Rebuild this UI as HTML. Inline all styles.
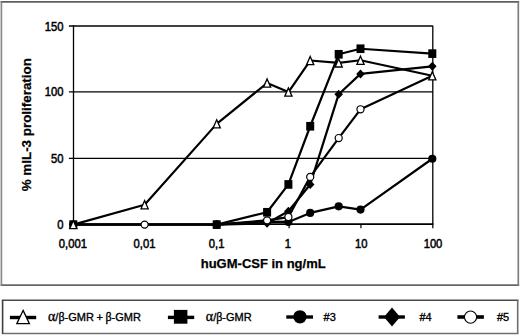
<!DOCTYPE html>
<html><head><meta charset="utf-8"><style>
html,body{margin:0;padding:0;background:#fff;}
body{width:520px;height:335px;overflow:hidden;}
svg{display:block;}
.t{font-family:"Liberation Sans",sans-serif;font-size:12.5px;fill:#000;stroke:#000;stroke-width:0.5px;}
.l{font-family:"Liberation Sans",sans-serif;font-size:11px;fill:#000;stroke:#000;stroke-width:0.35px;}
.g{font-family:"Liberation Serif",serif;font-size:12px;}
.ga{font-family:"Liberation Serif",serif;font-size:14px;}
.b{font-family:"Liberation Sans",sans-serif;font-size:13px;font-weight:bold;fill:#000;stroke:#000;stroke-width:0.25px;}
</style></head><body>
<svg width="520" height="335" viewBox="0 0 520 335">
<line x1="0.55" y1="1.80" x2="519.15" y2="1.80" stroke="#5e5e5e" stroke-width="1.70"/>
<line x1="0.55" y1="285.20" x2="519.15" y2="285.20" stroke="#686868" stroke-width="1.70"/>
<line x1="1.40" y1="1.80" x2="1.40" y2="285.20" stroke="#8a8a8a" stroke-width="1.70"/>
<line x1="518.30" y1="1.80" x2="518.30" y2="285.20" stroke="#7e7e7e" stroke-width="1.70"/>
<line x1="1.80" y1="300.20" x2="518.50" y2="300.20" stroke="#4a4a4a" stroke-width="1.60"/>
<line x1="1.80" y1="333.50" x2="518.50" y2="333.50" stroke="#707070" stroke-width="1.60"/>
<line x1="2.60" y1="300.20" x2="2.60" y2="333.50" stroke="#3e3e3e" stroke-width="1.60"/>
<line x1="517.70" y1="300.20" x2="517.70" y2="333.50" stroke="#6e6e6e" stroke-width="1.60"/>
<line x1="68.90" y1="158.40" x2="432.80" y2="158.40" stroke="#000" stroke-width="1.3"/>
<line x1="68.90" y1="91.90" x2="432.80" y2="91.90" stroke="#000" stroke-width="1.3"/>
<line x1="68.90" y1="26.00" x2="432.80" y2="26.00" stroke="#000" stroke-width="1.3"/>
<line x1="68.90" y1="224.10" x2="73.50" y2="224.10" stroke="#000" stroke-width="1.2"/>
<line x1="432.80" y1="25.80" x2="432.80" y2="224.00" stroke="#000" stroke-width="1.3"/>
<line x1="73.50" y1="25.20" x2="73.50" y2="224.00" stroke="#000" stroke-width="1.3"/>
<line x1="73.50" y1="224.10" x2="433.40" y2="224.10" stroke="#000" stroke-width="1.8"/>
<line x1="73.50" y1="224.00" x2="73.50" y2="228.30" stroke="#000" stroke-width="1.2"/>
<line x1="145.36" y1="224.00" x2="145.36" y2="228.30" stroke="#000" stroke-width="1.2"/>
<line x1="217.22" y1="224.00" x2="217.22" y2="228.30" stroke="#000" stroke-width="1.2"/>
<line x1="289.08" y1="224.00" x2="289.08" y2="228.30" stroke="#000" stroke-width="1.2"/>
<line x1="360.94" y1="224.00" x2="360.94" y2="228.30" stroke="#000" stroke-width="1.2"/>
<line x1="432.80" y1="224.00" x2="432.80" y2="228.30" stroke="#000" stroke-width="1.2"/>
<text transform="translate(63.6,228.60) scale(0.900,1)" text-anchor="end" class="t">0</text>
<text transform="translate(63.6,162.90) scale(0.900,1)" text-anchor="end" class="t">50</text>
<text transform="translate(63.6,96.40) scale(0.900,1)" text-anchor="end" class="t">100</text>
<text transform="translate(63.6,30.50) scale(0.900,1)" text-anchor="end" class="t">150</text>
<text transform="translate(72.90,247.6) scale(0.900,1)" text-anchor="middle" class="t">0,001</text>
<text transform="translate(144.46,247.6) scale(0.900,1)" text-anchor="middle" class="t">0,01</text>
<text transform="translate(216.62,247.6) scale(0.900,1)" text-anchor="middle" class="t">0,1</text>
<text transform="translate(287.88,247.6) scale(0.900,1)" text-anchor="middle" class="t">1</text>
<text transform="translate(361.14,247.6) scale(0.900,1)" text-anchor="middle" class="t">10</text>
<text transform="translate(433.00,247.6) scale(0.900,1)" text-anchor="middle" class="t">100</text>
<text x="263.2" y="268.2" text-anchor="middle" class="b">huGM-CSF in ng/mL</text>
<text transform="translate(31.3,124.7) rotate(-90)" text-anchor="middle" class="b" style="font-size:13.4px">% mIL-3 proliferation</text>
<polyline points="216.70,224.60 267.10,221.55 288.40,221.95 310.20,212.94 338.70,206.31 360.50,209.62 432.30,158.73" fill="none" stroke="#000" stroke-width="2.20" stroke-linejoin="round"/>
<polyline points="216.70,224.60 267.10,223.27 288.40,211.21 310.20,184.44 338.70,94.19 360.50,73.91 432.30,66.36" fill="none" stroke="#000" stroke-width="2.20" stroke-linejoin="round"/>
<polyline points="73.30,224.60 144.60,224.60 216.70,224.60 267.10,220.36 288.40,217.05 310.20,176.89 338.70,138.06 360.50,109.30 432.30,75.77" fill="none" stroke="#000" stroke-width="2.20" stroke-linejoin="round"/>
<polyline points="73.30,224.60 216.70,224.60 267.10,212.27 288.40,184.44 310.20,126.26 338.70,54.29 360.50,48.73 432.30,53.63" fill="none" stroke="#000" stroke-width="2.20" stroke-linejoin="round"/>
<polyline points="73.30,224.60 144.60,204.72 216.70,123.87 267.10,83.05 288.40,92.07 310.20,60.52 338.70,62.91 360.50,60.26 432.30,75.77" fill="none" stroke="#000" stroke-width="2.20" stroke-linejoin="round"/>
<circle cx="216.70" cy="224.60" r="4.10" fill="#000"/>
<circle cx="267.10" cy="221.55" r="4.10" fill="#000"/>
<circle cx="288.40" cy="221.95" r="4.10" fill="#000"/>
<circle cx="310.20" cy="212.94" r="4.10" fill="#000"/>
<circle cx="338.70" cy="206.31" r="4.10" fill="#000"/>
<circle cx="360.50" cy="209.62" r="4.10" fill="#000"/>
<circle cx="432.30" cy="158.73" r="4.10" fill="#000"/>
<polygon points="216.70,220.10 221.00,224.60 216.70,229.10 212.40,224.60" fill="#000"/>
<polygon points="267.10,218.77 271.40,223.27 267.10,227.77 262.80,223.27" fill="#000"/>
<polygon points="288.40,206.71 292.70,211.21 288.40,215.71 284.10,211.21" fill="#000"/>
<polygon points="310.20,179.94 314.50,184.44 310.20,188.94 305.90,184.44" fill="#000"/>
<polygon points="338.70,89.69 343.00,94.19 338.70,98.69 334.40,94.19" fill="#000"/>
<polygon points="360.50,69.41 364.80,73.91 360.50,78.41 356.20,73.91" fill="#000"/>
<polygon points="432.30,61.86 436.60,66.36 432.30,70.86 428.00,66.36" fill="#000"/>
<circle cx="73.30" cy="224.60" r="3.55" fill="#fff" stroke="#000" stroke-width="1.20"/>
<circle cx="144.60" cy="224.60" r="3.55" fill="#fff" stroke="#000" stroke-width="1.20"/>
<circle cx="216.70" cy="224.60" r="3.55" fill="#fff" stroke="#000" stroke-width="1.20"/>
<circle cx="267.10" cy="220.36" r="3.55" fill="#fff" stroke="#000" stroke-width="1.20"/>
<circle cx="288.40" cy="217.05" r="3.55" fill="#fff" stroke="#000" stroke-width="1.20"/>
<circle cx="310.20" cy="176.89" r="3.55" fill="#fff" stroke="#000" stroke-width="1.20"/>
<circle cx="338.70" cy="138.06" r="3.55" fill="#fff" stroke="#000" stroke-width="1.20"/>
<circle cx="360.50" cy="109.30" r="3.55" fill="#fff" stroke="#000" stroke-width="1.20"/>
<rect x="69.30" y="220.28" width="8.00" height="8.64" fill="#000"/>
<rect x="212.70" y="220.28" width="8.00" height="8.64" fill="#000"/>
<rect x="263.10" y="207.95" width="8.00" height="8.64" fill="#000"/>
<rect x="284.40" y="180.12" width="8.00" height="8.64" fill="#000"/>
<rect x="306.20" y="121.94" width="8.00" height="8.64" fill="#000"/>
<rect x="334.70" y="49.97" width="8.00" height="8.64" fill="#000"/>
<rect x="356.50" y="44.41" width="8.00" height="8.64" fill="#000"/>
<rect x="428.30" y="49.31" width="8.00" height="8.64" fill="#000"/>
<polygon points="73.30,220.50 76.90,228.70 69.70,228.70" fill="#fff" stroke="#000" stroke-width="1.30" stroke-linejoin="miter"/>
<polygon points="144.60,200.62 148.20,208.82 141.00,208.82" fill="#fff" stroke="#000" stroke-width="1.30" stroke-linejoin="miter"/>
<polygon points="216.70,119.77 220.30,127.97 213.10,127.97" fill="#fff" stroke="#000" stroke-width="1.30" stroke-linejoin="miter"/>
<polygon points="267.10,78.95 270.70,87.15 263.50,87.15" fill="#fff" stroke="#000" stroke-width="1.30" stroke-linejoin="miter"/>
<polygon points="288.40,87.97 292.00,96.17 284.80,96.17" fill="#fff" stroke="#000" stroke-width="1.30" stroke-linejoin="miter"/>
<polygon points="310.20,56.42 313.80,64.62 306.60,64.62" fill="#fff" stroke="#000" stroke-width="1.30" stroke-linejoin="miter"/>
<polygon points="338.70,58.81 342.30,67.01 335.10,67.01" fill="#fff" stroke="#000" stroke-width="1.30" stroke-linejoin="miter"/>
<polygon points="360.50,56.16 364.10,64.36 356.90,64.36" fill="#fff" stroke="#000" stroke-width="1.30" stroke-linejoin="miter"/>
<polygon points="432.30,71.67 435.90,79.87 428.70,79.87" fill="#fff" stroke="#000" stroke-width="1.30" stroke-linejoin="miter"/>
<line x1="9.90" y1="317.50" x2="36.20" y2="317.50" stroke="#000" stroke-width="3.40"/>
<polygon points="23.10,310.40 29.40,323.60 16.80,323.60" fill="#fff" stroke="#000" stroke-width="1.30" stroke-linejoin="miter"/>
<text x="48.0" y="321.4" class="l"><tspan class="ga">&#945;</tspan>/<tspan class="g">&#946;</tspan>-GMR</text>
<text x="96.6" y="321.4" class="l">+</text>
<text x="105.4" y="321.4" class="l"><tspan class="g">&#946;</tspan>-GMR</text>
<line x1="167.90" y1="317.40" x2="194.20" y2="317.40" stroke="#000" stroke-width="3.40"/>
<rect x="173.90" y="309.90" width="13.50" height="13.80" fill="#000"/>
<text x="205.8" y="321.4" class="l"><tspan class="ga">&#945;</tspan>/<tspan class="g">&#946;</tspan>-GMR</text>
<line x1="286.30" y1="317.00" x2="313.00" y2="317.00" stroke="#000" stroke-width="3.40"/>
<circle cx="299.95" cy="316.85" r="6.70" fill="#000"/>
<text x="323.6" y="321.2" class="l">#3</text>
<line x1="378.60" y1="317.00" x2="404.90" y2="317.00" stroke="#000" stroke-width="3.40"/>
<polygon points="392.00,307.50 400.00,317.00 392.00,326.50 384.00,317.00" fill="#000"/>
<text x="419.4" y="321.2" class="l">#4</text>
<line x1="457.40" y1="317.00" x2="483.90" y2="317.00" stroke="#000" stroke-width="3.60"/>
<circle cx="470.55" cy="317.10" r="6.10" fill="#fff" stroke="#000" stroke-width="1.10"/>
<text x="496.9" y="321.2" class="l">#5</text>
</svg>
</body></html>
